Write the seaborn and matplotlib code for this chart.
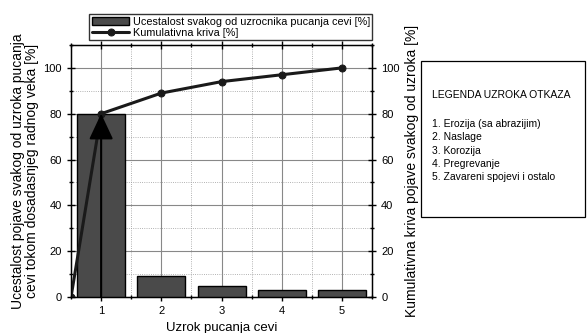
import numpy as np
import pandas as pd
import seaborn as sns
import matplotlib.pyplot as plt
from matplotlib.ticker import MultipleLocator
from matplotlib.patches import Rectangle

# data
uzroci = [1, 2, 3, 4, 5]
ucestalost = [80, 9, 5, 3, 3]
kum_x = [0.5, 1, 2, 3, 4, 5]
kumulativ = [0, 80, 89, 94, 97, 100]
legenda_uzroka = ["1. Erozija (sa abrazijim)", "2. Naslage", "3. Korozija",
                  "4. Pregrevanje", "5. Zavareni spojevi i ostalo"]

sns.set_style("ticks", {"text.color": "black", "axes.labelcolor": "black",
                        "xtick.color": "black", "ytick.color": "black",
                        "axes.edgecolor": "black"})
plt.rcParams['font.family'] = ['Liberation Sans', 'DejaVu Sans']
plt.rcParams['font.size'] = 8

df = pd.DataFrame({"uzrok": uzroci, "ucestalost": ucestalost})
df_kum = pd.DataFrame({"x": kum_x, "kum": kumulativ})

fig = plt.figure(figsize=(5.87, 3.33), dpi=100)
ax = fig.add_axes([0.121, 0.108, 0.513, 0.757])

sns.barplot(data=df, x="uzrok", y="ucestalost", native_scale=True, width=0.8,
            color="#4a4a4a", saturation=1, edgecolor="black", linewidth=1,
            ax=ax, label="Ucestalost svakog od uzrocnika pucanja cevi [%]", zorder=3)
sns.lineplot(data=df_kum, x="x", y="kum", color="#1a1a1a", linewidth=2.2,
             marker="o", markersize=5, markeredgecolor="#1a1a1a",
             ax=ax, label="Kumulativna kriva [%]", zorder=4)

# arrow at cause 1
ax.annotate("", xy=(1, ucestalost[0]), xytext=(1, 0),
            arrowprops=dict(arrowstyle="-|>,head_width=0.75,head_length=1.6",
                            color="black", lw=1.5, shrinkA=0, shrinkB=0,
                            mutation_scale=10), zorder=5)

ax.set_xlim(0.5, 5.5)
ax.set_ylim(0, 110)
ax.xaxis.set_major_locator(MultipleLocator(1))
ax.xaxis.set_minor_locator(MultipleLocator(0.5))
ax.yaxis.set_minor_locator(MultipleLocator(10))
ax.set_yticks([0, 20, 40, 60, 80, 100])
ax.grid(which="major", color="#888888", linewidth=0.8, zorder=0)
ax.grid(which="minor", color="#999999", linewidth=0.6, linestyle=":", zorder=0)
ax.set_axisbelow(True)
ax.tick_params(which="both", direction="inout", top=True, length=6, width=1)
ax.tick_params(which="minor", length=3)
for s in ax.spines.values():
    s.set_linewidth(1)

ax.set_xlabel("Uzrok pucanja cevi", fontsize=9.5)
ax.set_ylabel("Ucestalost pojave svakog od uzroka pucanja\ncevi tokom dosadasnjeg radnog veka [%]",
              fontsize=10, labelpad=3, linespacing=1.0)

ax2 = ax.twinx()
ax2.set_ylim(0, 110)
ax2.set_yticks([0, 20, 40, 60, 80, 100])
ax2.yaxis.set_minor_locator(MultipleLocator(10))
ax2.tick_params(which="both", direction="inout", length=6, width=1)
ax2.tick_params(which="minor", length=3)
ax2.set_ylabel("Kumulativna kriva pojave svakog od uzroka [%]", fontsize=10)

handles, labels = ax.get_legend_handles_labels()
order = [labels.index("Ucestalost svakog od uzrocnika pucanja cevi [%]"),
         labels.index("Kumulativna kriva [%]")]
ax.legend([handles[i] for i in order], [labels[i] for i in order],
          loc="lower right", bbox_to_anchor=(1.0, 1.02), frameon=True, fancybox=False,
          edgecolor="black", fontsize=7.8, borderpad=0.2, handlelength=3.5,
          handletextpad=0.3, labelspacing=0.1, borderaxespad=0)

# legend of causes box
fig.patches.append(Rectangle((0.717, 0.348), 0.279, 0.469, transform=fig.transFigure,
                             facecolor="white", edgecolor="black", linewidth=0.9))
fig.text(0.736, 0.715, "LEGENDA UZROKA OTKAZA", fontsize=7.5, va="center", ha="left")
for i, t in enumerate(legenda_uzroka):
    fig.text(0.736, 0.628 - i * 0.040, t, fontsize=7.5, va="center", ha="left")

fig.savefig("out.png", dpi=100)
